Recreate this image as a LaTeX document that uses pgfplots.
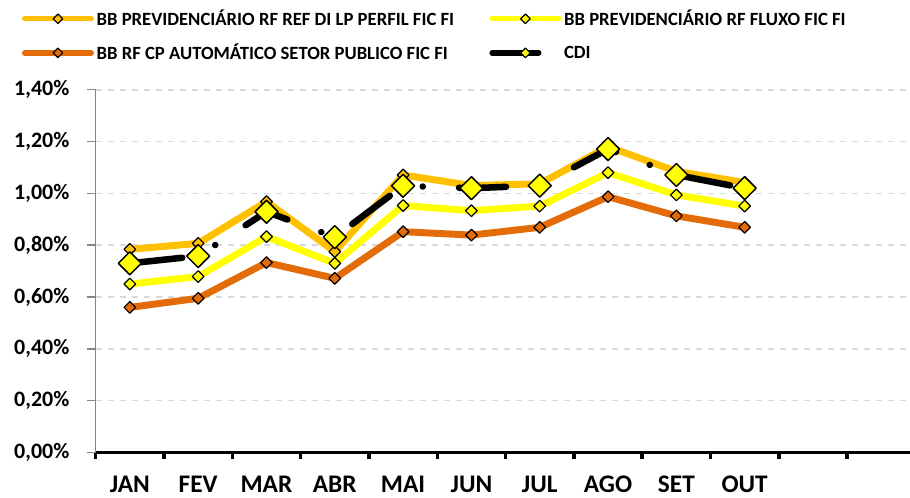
\documentclass[border=0pt]{standalone}
\usepackage{fontspec}
\setmainfont{Carlito}
\usepackage{pgfplots}
\pgfplotsset{compat=1.18}
\definecolor{cref}{HTML}{FFC000}
\definecolor{cflu}{HTML}{FFFF00}
\definecolor{ccp}{HTML}{E36C09}
\definecolor{gridc}{HTML}{D9D9D9}
\definecolor{axgray}{HTML}{868686}
\pgfplotsset{
  lgd/.style n args={3}{legend image code/.code={
    \draw[line width=4pt,#1,line cap=round,dash pattern=#3,dash phase=0pt] (2pt,0pt) -- (52pt,0pt);
    \draw[solid,fill=#2,draw=black,line width=0.9pt] (27pt,0pt) +(-3.6pt,0pt) -- +(0pt,3.6pt) -- +(3.6pt,0pt) -- +(0pt,-3.6pt) -- cycle;}},
}
\begin{document}
\begin{tikzpicture}
\path[use as bounding box] (-71.775pt,-33.375pt) rectangle (610.725pt,339.375pt);
\begin{axis}[
  at={(0pt,0pt)}, anchor=south west, scale only axis,
  width=610.725pt, height=272.1pt,
  xmin=-0.5, xmax=11.42, ymin=0, ymax=1.4,
  axis x line*=bottom, axis y line*=left,
  x axis line style={-, black, line width=2.6pt},
  y axis line style={-, axgray, line width=1.1pt},
  tick align=outside,
  xtick={0,1,2,3,4,5,6,7,8,9},
  xticklabels={JAN,FEV,MAR,ABR,MAI,JUN,JUL,AGO,SET,OUT},
  major x tick style={draw=none},
  minor xtick={-0.5,0.5,1.5,2.5,3.5,4.5,5.5,6.5,7.5,8.5,9.5,10.5},
  minor x tick style={black, line width=2.6pt},
  minor tick length=5pt,
  ytick={0,0.2,0.4,0.6,0.8,1.0,1.2,1.4},
  yticklabels={{0,00\%},{0,20\%},{0,40\%},{0,60\%},{0,80\%},{1,00\%},{1,20\%},{1,40\%}},
  major y tick style={axgray, line width=1.1pt},
  major tick length=6.2pt,
  ymajorgrids,
  major grid style={gridc, line width=1.2pt, dash pattern=on 5pt off 4pt},
  /pgf/number format/assume math mode=true,
  xticklabel style={font=\bfseries\fontsize{19}{22}\selectfont, inner sep=0pt, text depth=0pt, yshift=-11pt},
  yticklabel style={font=\bfseries\fontsize{16.5}{19}\selectfont, xshift=-10pt},
  legend columns=2,
  legend cell align=left,
  legend style={at={(axis description cs:0,1)}, anchor=north west,
    xshift=-55.5pt, yshift=62pt, draw=none, fill=none, inner sep=0pt,
    font=\bfseries\fontsize{14}{16}\selectfont,
    /tikz/every even column/.append style={column sep=24.5pt},
    row sep=8.3pt},
  clip=false,
]
\addplot[cref, line width=5.2pt, line join=round, mark=square*, mark size=3.1pt,
  mark options={rotate=45, fill=cref, draw=black, line width=0.9pt, solid}, lgd={cref}{cref}{on 60pt off 10pt}]
  coordinates {(0,0.784) (1,0.807) (2,0.968) (3,0.775) (4,1.071) (5,1.030) (6,1.037) (7,1.180) (8,1.085) (9,1.042)};
\addlegendentry{BB PREVIDENCIÁRIO RF REF DI LP PERFIL FIC FI}
\addplot[cflu, line width=5.2pt, line join=round, mark=square*, mark size=3.1pt,
  mark options={rotate=45, fill=cflu, draw=black, line width=0.9pt, solid}, lgd={cflu}{cflu}{on 60pt off 10pt}]
  coordinates {(0,0.650) (1,0.679) (2,0.833) (3,0.730) (4,0.953) (5,0.933) (6,0.951) (7,1.080) (8,0.994) (9,0.951)};
\addlegendentry{BB PREVIDENCIÁRIO RF FLUXO FIC FI}
\addplot[ccp, line width=5.2pt, line join=round, mark=square*, mark size=3.1pt,
  mark options={rotate=45, fill=ccp, draw=black, line width=0.9pt, solid}, lgd={ccp}{ccp}{on 60pt off 10pt}]
  coordinates {(0,0.560) (1,0.595) (2,0.733) (3,0.672) (4,0.852) (5,0.839) (6,0.869) (7,0.987) (8,0.913) (9,0.869)};
\addlegendentry{BB RF CP AUTOMÁTICO SETOR PUBLICO FIC FI}
\addplot[black, line width=4.9pt, line cap=round, line join=round,
  dash pattern=on 35.25pt off 27.2pt on 0.01pt off 27.2pt, dash phase=85.35pt,
  mark=square*, mark size=6.1pt,
  mark options={rotate=45, fill=cflu, draw=black, line width=1.1pt, solid},
  lgd={black}{cflu}{on 35pt off 100pt}]
  coordinates {(0,0.730) (1,0.758) (2,0.929) (3,0.831) (4,1.029) (5,1.020) (6,1.030) (7,1.171) (8,1.071) (9,1.020)};
\addlegendentry{CDI}
\end{axis}
\end{tikzpicture}
\end{document}
